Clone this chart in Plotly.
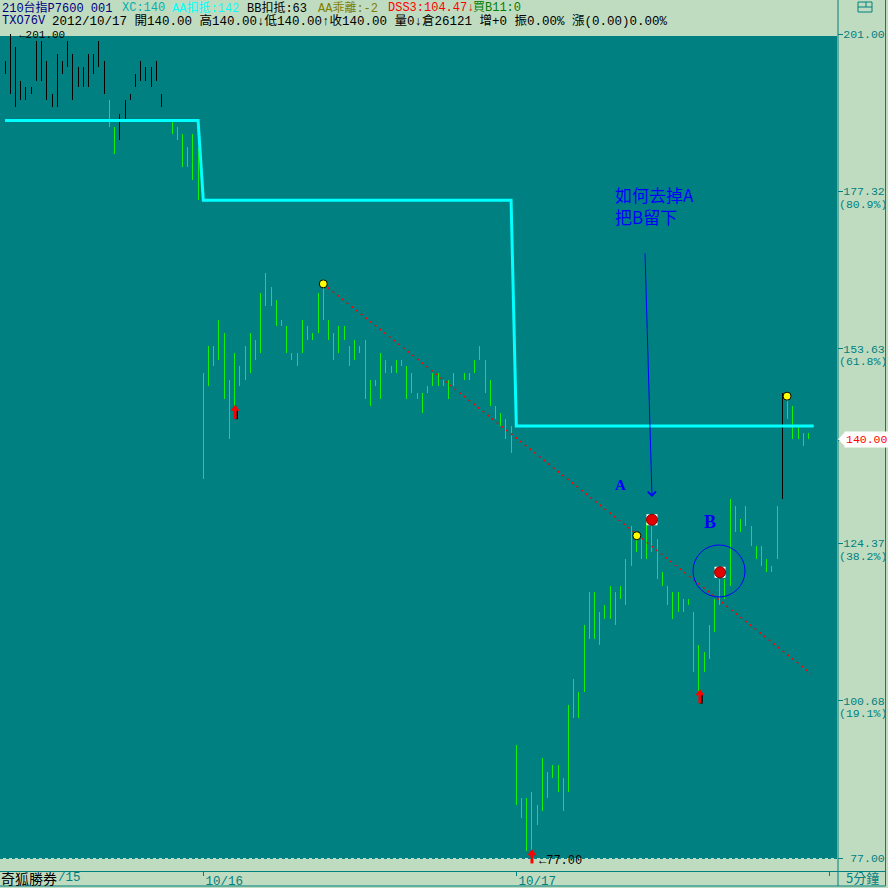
import plotly.graph_objects as go

# ---------------- data (5-minute bars, high / low) ----------------
high_1015 = [197, 201, 199, 194, 193, 193, 200, 200, 197, 192,
             198, 197, 200, 198, 196, 196, 198, 198, 200, 197,
             191, 187, 189, 191, 192, 195, 197, 196, 196, 197,
             192, None, 188, 187, 186, 184, 186, 184]
low_1015 = [195, 192, 190, 191, 191, 192, 194, 194, 191, 190,
            190, 195, 196, 191, 193, 193, 193, 195, 196, 192,
            187, 183, 185, 188, 191, 193, 194, 194, 193, 194,
            190, None, 186, 185, 181, 181, 179, 176]
high_1016 = [150, 154, 154, 158, 156, 149, 153, 151, 154, 156,
             155, 162, 165, 163, 161, 158, 157, 153, 153, 158,
             157, 156, 162, 164, 158, 156, 157, 157, 154, 155,
             154, 155, 149, 149, 153, 152, 151, 152, 152, 151,
             150, 147, 147, 148, 150, 150, 149, 149, 150, 150,
             150, 150, 152, 154, 152, 149, 145, 144, 143, 142]
low_1016 = [134, 148, 151, 152, 146, 140, 144, 148, 149, 150,
            152, 153, 160, 160, 157, 157, 153, 152, 151, 153,
            155, 155, 156, 158, 155, 152, 153, 155, 151, 152,
            153, 146, 145, 148, 146, 150, 150, 150, 151, 146,
            147, 146, 144, 147, 148, 148, 148, 146, 148, 150,
            149, 149, 150, 152, 147, 145, 143, 142, 140, 138]
high_1017 = [94, 86, 86, 87, 85, 92, 90, 91, 91, 89,
             100, 104, 102, 112, 117, 117, 114, 115, 118, 117,
             118, 122, 127, 126, 125, 128, 127, 125, 120, 118,
             117, 117, 116, 116, 114, 109, 108, 112, 116, 119,
             119, 131, 130, 128, 130, 127, 124, 124, 122, 121,
             130, 147, 146, 145, 142, 141, 141]
low_1017 = [85, 83, 78, 77, 82, 84, 86, 89, 87, 84,
            87, 98, 98, 102, 110, 110, 109, 113, 113, 112,
            116, 115, 121, 123, 122, 122, 123, 119, 118, 115,
            113, 114, 114, 115, 105, 102, 105, 107, 111, 115,
            116, 118, 126, 126, 127, 124, 122, 121, 120, 120,
            122, 131, 143, 140, 140, 139, 140]

day_tick_idx = [38, 98, 158]
day_tick_text = ["10/16", "10/17", ""]

y_tick_vals = [201, 177.32, 153.63, 139.88, 124.37, 100.68, 77]
y_tick_text = ["201.00", "177.32", "153.63", "139.88", "124.37", "100.68", "\u00a077.00"]
fib_vals = [177.32, 153.63, 124.37, 100.68]
fib_text = ["(80.9%)", "(61.8%)", "(38.2%)", "(19.1%)"]

aa_idx = [0, 37, 38, 97, 98, 155]
aa_val = [188, 188, 176, 176, 142, 142]

trend_idx = [61.0, 154.6]
trend_val = [163.4, 104.7]

yellow_idx = [61, 121.1, 149.9]
yellow_val = [163.4, 125.5, 146.5]
redball_idx = [124.0, 137.05]
redball_val = [127.9, 120.0]
arrow_idx = [44.1, 133.2, 101.0]
arrow_val = [144.3, 101.5, 77.4]

last_close = 140.0
y_min, y_max = 77, 201

# ---------------- style / layout constants ----------------
BG = "#C0DCC0"
TEAL = "#008080"
GREEN = "#10F010"
W, H = 888, 888
ML, MR, MT, MB = 0, 51, 34, 17
PW = W - ML - MR
PH = H - MT - MB
PLOT_BOTTOM = 858
X0_PX, DX = 5.07, 5.2167
PX_PER_UNIT = (PLOT_BOTTOM - MT) / (y_max - y_min)
MONO = "Liberation Mono, Noto Sans CJK TC, monospace"
CJK = "Noto Sans CJK TC, sans-serif"


def pxx(px):
    return (px - ML) / PW


def pxy(py):
    return (H - MB - py) / PH


def idx_of(px):
    return (px - X0_PX) / DX


def val_of(py):
    return y_max - (py - MT) / PX_PER_UNIT


black_bars = set(range(0, 20)) | set(range(22, 31)) | {149}

highs = high_1015 + high_1016 + high_1017
lows = low_1015 + low_1016 + low_1017

gx, gy, bx, by = [], [], [], []
for i, (h, l) in enumerate(zip(highs, lows)):
    if h is None:
        continue
    if i in black_bars:
        bx += [i, i, None]
        by += [l, h, None]
    else:
        gx += [i, i, None]
        gy += [l, h, None]

fig = go.Figure()
fig.add_trace(go.Scatter(x=gx, y=gy, mode="lines", line=dict(color=GREEN, width=1),
                         hoverinfo="skip", showlegend=False))
fig.add_trace(go.Scatter(x=bx, y=by, mode="lines", line=dict(color="#000000", width=1),
                         hoverinfo="skip", showlegend=False))
fig.add_trace(go.Scatter(x=aa_idx, y=aa_val, mode="lines", line=dict(color="#00FFFF", width=3),
                         hoverinfo="skip", showlegend=False))
fig.add_trace(go.Scatter(x=trend_idx, y=trend_val, mode="lines",
                         line=dict(color="#FF0000", width=1.5, dash="2px,4px"),
                         hoverinfo="skip", showlegend=False))
fig.add_trace(go.Scatter(x=yellow_idx, y=yellow_val, mode="markers",
                         marker=dict(symbol="circle", size=8, color="#FFFF00",
                                     line=dict(color="#000000", width=1)),
                         hoverinfo="skip", showlegend=False))
fig.add_trace(go.Scatter(x=redball_idx, y=redball_val, mode="markers",
                         marker=dict(symbol="square", size=11, color="#FFFFFF",
                                     line=dict(width=0)),
                         hoverinfo="skip", showlegend=False))
fig.add_trace(go.Scatter(x=redball_idx, y=redball_val, mode="markers",
                         marker=dict(symbol="circle", size=11, color="#E00000",
                                     line=dict(color="#800000", width=1)),
                         hoverinfo="skip", showlegend=False))
# red up-arrow signals: stem + head (pixel offsets converted to value units)
stem_off = 2.5 / PX_PER_UNIT
head_off = 2.0 / PX_PER_UNIT
fig.add_trace(go.Scatter(x=[i + 0.25 for i in arrow_idx], y=[v - stem_off - 0.15 for v in arrow_val],
                         mode="markers", cliponaxis=False,
                         marker=dict(symbol="line-ns", size=7,
                                     line=dict(color="#000000", width=3)),
                         hoverinfo="skip", showlegend=False))
fig.add_trace(go.Scatter(x=arrow_idx, y=[v - stem_off for v in arrow_val],
                         mode="markers", cliponaxis=False,
                         marker=dict(symbol="line-ns", size=8,
                                     line=dict(color="#FF0000", width=3)),
                         hoverinfo="skip", showlegend=False))
fig.add_trace(go.Scatter(x=arrow_idx, y=[v + head_off for v in arrow_val],
                         mode="markers", cliponaxis=False,
                         marker=dict(symbol="triangle-up", size=8, color="#FF0000",
                                     line=dict(width=0)),
                         hoverinfo="skip", showlegend=False))

shapes = []
# header/plot boundary band
shapes.append(dict(type="rect", xref="paper", yref="paper", x0=0, x1=1,
                   y0=pxy(36), y1=1, fillcolor=BG, line=dict(width=0), layer="below"))
# dotted bottom edge of plot
shapes.append(dict(type="line", xref="paper", yref="paper", x0=0, x1=1,
                   y0=pxy(858.5), y1=pxy(858.5), line=dict(color=TEAL, width=1, dash="dot")))
# frame lines
for (x0, y0, x1, y1) in [(838, 0, 838, 886), (885.5, 0, 885.5, 886),
                         (0, 871.5, 885.5, 871.5), (0, 886, 885.5, 886)]:
    shapes.append(dict(type="line", xref="paper", yref="paper",
                       x0=pxx(x0), y0=pxy(y0), x1=pxx(x1), y1=pxy(y1),
                       line=dict(color=TEAL, width=1)))
# top-right icon
shapes.append(dict(type="rect", xref="paper", yref="paper", x0=pxx(858), x1=pxx(872),
                   y0=pxy(12), y1=pxy(2), line=dict(color=TEAL, width=1)))
shapes.append(dict(type="line", xref="paper", yref="paper", x0=pxx(858), x1=pxx(872),
                   y0=pxy(7), y1=pxy(7), line=dict(color=TEAL, width=1)))
shapes.append(dict(type="line", xref="paper", yref="paper", x0=pxx(866), x1=pxx(866),
                   y0=pxy(2), y1=pxy(7), line=dict(color=TEAL, width=1)))
# blue circle around B
cx, cy, r = idx_of(719), val_of(571), 26
shapes.append(dict(type="circle", xref="x", yref="y",
                   x0=cx - r / DX, x1=cx + r / DX,
                   y0=cy - r / PX_PER_UNIT, y1=cy + r / PX_PER_UNIT,
                   line=dict(color="#0000FF", width=1)))
# pointer for last price label
hh = 7 / PX_PER_UNIT
shapes.append(dict(type="path", xref="paper", yref="y",
                   path=f"M {pxx(838)},{last_close} L {pxx(845)},{last_close + hh} "
                        f"L {pxx(845)},{last_close - hh} Z",
                   fillcolor="#FFFFFF", line=dict(width=0)))

ann = []


def text_px(x, y, txt, color, size=12, family=MONO, xanchor="left"):
    ann.append(dict(xref="paper", yref="paper", x=pxx(x), y=pxy(y), text=txt,
                    showarrow=False, xanchor=xanchor, yanchor="middle",
                    font=dict(color=color, size=size, family=family), borderpad=0))


# header line 1
for x, t, c in [(1, "210台指P7600 001", "#000080"), (121, "XC:140", "#00B0B0"),
                (171, "AA扣抵:142", "#00FFFF"), (246, "BB扣抵:63", "#000000"),
                (317, "AA乖離:-2", "#808000"), (387, "DSS3:104.47↓", "#FF0000"),
                (472, "買B11:0", "#008000")]:
    text_px(x, 8, t, c)
# header line 2
text_px(1, 21, "TXO76V", "#000080")
text_px(51, 21, "2012/10/17 開140.00 高140.00↓低140.00↑收140.00 量0↓倉26121 增+0 "
                "振0.00% 漲(0.00)0.00%", "#000000", size=12.5)
# bottom left broker name and partial date
text_px(0, 878, "奇狐勝券", "#000000", size=14, family=CJK)
text_px(57, 878, "/15", TEAL, size=12.5)
text_px(845, 878, "5分鐘", TEAL, size=13, family=CJK)

# fib percent labels on the right axis
for v, t in zip(fib_vals, fib_text):
    ann.append(dict(xref="paper", yref="y", x=pxx(838), y=v, text=t, showarrow=False,
                    xanchor="left", yanchor="middle", yshift=-13, borderpad=0,
                    font=dict(color=TEAL, size=11.5, family=MONO)))
# last price label
ann.append(dict(xref="paper", yref="y", x=pxx(844), y=last_close, text="140.00",
                showarrow=False, xanchor="left", yanchor="middle", bgcolor="#FFFFFF",
                borderpad=1, font=dict(color="#FF0000", size=11.5, family=MONO)))
# extreme labels
ann.append(dict(xref="x", yref="y", x=arrow_idx[2], y=y_min, text="←77.00", showarrow=False,
                xanchor="left", yanchor="middle", xshift=6, yshift=-3, borderpad=0,
                font=dict(color="#000000", size=12, family=MONO)))
ann.append(dict(xref="x", yref="y", x=1, y=y_max, text="←201.00", showarrow=False,
                xanchor="left", yanchor="middle", xshift=8, yshift=-1, borderpad=0,
                font=dict(color="#000000", size=11, family=MONO)))
# blue notes
ann.append(dict(xref="paper", yref="paper", x=pxx(614), y=pxy(206),
                text="如何去掉A<br>把B留下", showarrow=False, align="left",
                xanchor="left", yanchor="middle", borderpad=0,
                font=dict(color="#0000FF", size=17, family=CJK)))
ann.append(dict(xref="x", yref="y", x=idx_of(620), y=val_of(484.5), text="<b>A</b>",
                showarrow=False, font=dict(color="#0000FF", size=15,
                                           family="Liberation Serif, serif")))
ann.append(dict(xref="x", yref="y", x=idx_of(709.5), y=val_of(521.5), text="<b>B</b>",
                showarrow=False, font=dict(color="#0000FF", size=18,
                                           family="Liberation Serif, serif")))
ann.append(dict(xref="x", yref="y", x=idx_of(652), y=val_of(497), text="",
                showarrow=True, ax=-7, ay=-245, arrowhead=4, arrowsize=1.6,
                arrowwidth=1, arrowcolor="#0000FF"))

fig.update_layout(
    width=W, height=H, margin=dict(l=ML, r=MR, t=MT, b=MB, pad=0),
    paper_bgcolor=BG, plot_bgcolor=TEAL, showlegend=False,
    shapes=shapes, annotations=ann,
    xaxis=dict(range=[idx_of(0), idx_of(PW)], anchor="free", position=0,
               tickmode="array", tickvals=day_tick_idx, ticktext=day_tick_text,
               ticks="outside", ticklen=4, tickcolor=TEAL, tickwidth=1,
               ticklabelshift=21, ticklabelstandoff=-6,
               showgrid=False, zeroline=False, showline=False,
               tickfont=dict(color=TEAL, size=12.5, family=MONO)),
    yaxis=dict(range=[y_min, y_max], domain=[pxy(PLOT_BOTTOM), 1], side="right",
               tickmode="array", tickvals=y_tick_vals, ticktext=y_tick_text,
               ticks="outside", ticklen=5, tickcolor=TEAL, tickwidth=1,
               ticklabelstandoff=-2,
               showgrid=False, zeroline=False, showline=False,
               tickfont=dict(color=TEAL, size=11.5, family=MONO)),
)

fig.write_html(
    "out.html",
    config={"displayModeBar": False},
    post_script=(
        "document.body.style.margin='0';document.body.style.padding='0';"
        "var tr=document.querySelectorAll('.scatterlayer .trace');"
        "for(var k=0;k<2&&k<tr.length;k++){tr[k].querySelectorAll('path').forEach("
        "function(p){p.style.shapeRendering='crispEdges';});}"
    ),
)
